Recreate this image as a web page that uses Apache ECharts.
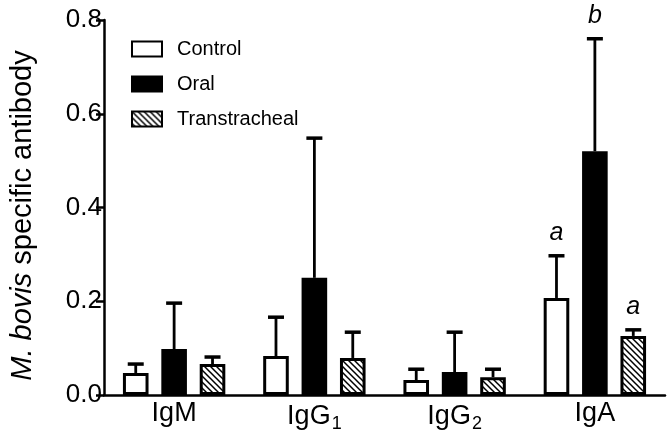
<!DOCTYPE html>
<html>
<head>
<meta charset="utf-8">
<script src="https://cdn.jsdelivr.net/npm/echarts@6/dist/echarts.min.js"></script>
<style>html,body{margin:0;padding:0;background:#fff}#c{width:672px;height:438px}</style>
</head>
<body>
<div id="c"></div>
<script>
var categories = ['IgM', 'IgG1', 'IgG2', 'IgA'];
var categoryLabels = ['IgM', 'IgG{sub|1}', 'IgG{sub|2}', 'IgA'];
var seriesNames = ['Control', 'Oral', 'Transtracheal'];
var controlMean = [0.047, 0.083, 0.032, 0.207];
var controlUpper = [0.066, 0.166, 0.055, 0.297];
var oralMean = [0.098, 0.250, 0.049, 0.520];
var oralUpper = [0.196, 0.548, 0.134, 0.760];
var transMean = [0.066, 0.079, 0.038, 0.126];
var transUpper = [0.081, 0.134, 0.055, 0.139];
var controlLetters = ['', '', '', 'a'];
var oralLetters = ['', '', '', 'b'];
var transLetters = ['', '', '', 'a'];
var yTicks = [0.0, 0.2, 0.4, 0.6, 0.8];

var FONT = 'Liberation Sans, Arial, Helvetica, sans-serif';

// hatch pattern
var pc = document.createElement('canvas');
pc.width = 6; pc.height = 6;
var g = pc.getContext('2d');
g.fillStyle = '#fff'; g.fillRect(0, 0, 6, 6);
g.strokeStyle = '#000'; g.lineWidth = 1.5;
g.beginPath();
g.moveTo(0, 0); g.lineTo(6, 6);
g.moveTo(-3, 3); g.lineTo(3, 9);
g.moveTo(3, -3); g.lineTo(9, 3);
g.stroke();
var hatch = { image: pc, repeat: 'repeat' };

var means = [controlMean, oralMean, transMean];
var uppers = [controlUpper, oralUpper, transUpper];
var letters = [controlLetters, oralLetters, transLetters];
var fills = ['#ffffff', '#000000', hatch];

var CAT_GAP = 0.27, BAR_GAP = 0.5;

function errRender(si) {
  return function (params, api) {
    var ci = api.value(0);
    var mean = api.value(1), up = api.value(2);
    var band = api.size([1, 0])[0];
    var group = band * (1 - CAT_GAP);
    var bw = group / (3 + 2 * BAR_GAP);
    var center = api.coord([ci, 0])[0];
    var x = center - group / 2 + bw / 2 + si * bw * (1 + BAR_GAP);
    var y0 = api.coord([ci, mean])[1];
    var y1 = api.coord([ci, up])[1];
    var children = [
      { type: 'line', shape: { x1: x, y1: y0, x2: x, y2: y1 }, style: { stroke: '#000', lineWidth: 2.8 } },
      { type: 'line', shape: { x1: x - 8, y1: y1, x2: x + 8, y2: y1 }, style: { stroke: '#000', lineWidth: 3.5 } }
    ];
    var lt = letters[si][ci];
    if (lt) {
      children.push({ type: 'text', style: { text: lt, x: x, y: y1 - 10, align: 'center', verticalAlign: 'bottom', fontSize: 25, fontStyle: 'italic', fontFamily: FONT, fill: '#000' } });
    }
    return { type: 'group', children: children };
  };
}

var series = [];
for (var i = 0; i < 3; i++) {
  series.push({
    name: seriesNames[i], type: 'bar',
    data: means[i],
    barCategoryGap: (CAT_GAP * 100) + '%', barGap: (BAR_GAP * 100) + '%',
    itemStyle: { color: fills[i], borderColor: '#000', borderWidth: 3 },
    emphasis: { disabled: true }, z: 2
  });
}
for (var j = 0; j < 3; j++) {
  series.push({
    type: 'custom', name: seriesNames[j] + ' err',
    renderItem: errRender(j),
    data: means[j].map(function (m, k) { return [k, m, uppers[j][k]]; }),
    encode: { x: 0, y: [1, 2] }, z: 3, silent: true
  });
}

var chart = echarts.init(document.getElementById('c'), null, { renderer: 'canvas' });
chart.setOption({
  animation: false,
  backgroundColor: '#fff',
  grid: { left: 101, right: 7, top: 20, bottom: 43, containLabel: false },
  legend: {
    data: seriesNames, orient: 'vertical', left: 131, top: 39, padding: 0,
    itemWidth: 30, itemHeight: 15, itemGap: 15, icon: 'rect',
    textStyle: { fontSize: 20, fontFamily: FONT, color: '#000', padding: [0, 0, 0, 10] },
    selectedMode: false
  },
  xAxis: {
    type: 'category', data: categories,
    axisLine: { lineStyle: { color: '#000', width: 2.5 } },
    axisTick: { show: false },
    axisLabel: {
      interval: 0, hideOverlap: false,
      margin: 5, color: '#000', fontSize: 27, fontFamily: FONT,
      formatter: function (v, idx) { return categoryLabels[idx]; },
      rich: { sub: { fontSize: 18, fontFamily: FONT, color: '#000', padding: [15, 0, 0, 1] } }
    }
  },
  yAxis: {
    type: 'value', min: 0, max: 0.8, interval: 0.2,
    name: '{i|M. bovis} specific antibody', nameLocation: 'middle', nameGap: 67,
    nameTextStyle: {
      fontSize: 29, fontFamily: FONT, color: '#000', padding: [0, 16, 0, 0],
      rich: { i: { fontSize: 29, fontStyle: 'italic', fontFamily: FONT, color: '#000' } }
    },
    axisLine: { show: true, lineStyle: { color: '#000', width: 2.5 } },
    axisTick: { show: true, length: 8, lineStyle: { color: '#000', width: 2.5 } },
    axisLabel: { color: '#000', fontSize: 26, fontFamily: FONT, margin: 2,
      formatter: function (v) { var k = yTicks.indexOf(Math.round(v * 10) / 10); return (k >= 0 ? yTicks[k] : v).toFixed(1); } },
    splitLine: { show: false }
  },
  series: series
});
</script>
</body>
</html>
